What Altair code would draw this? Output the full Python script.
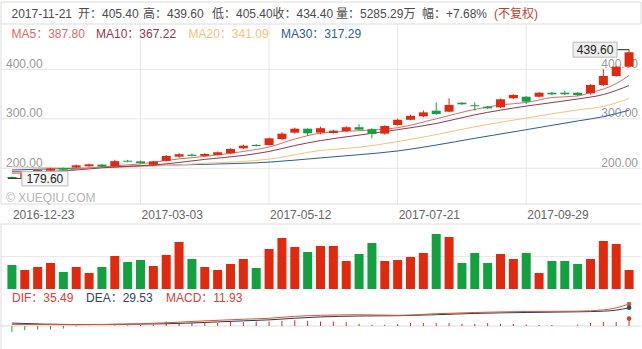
import altair as alt
import pandas as pd

FONT = "Arial, Liberation Sans, Noto Sans CJK SC, sans-serif"
RED = "#e0290e"
GREEN = "#13a03e"
GRID = "#e6e6e6"
BORDER = "#dcdcdc"
TXT = "#555555"
AXTXT = "#999999"
MA5C, MA10C, MA20C, MA30C = "#dd6a6a", "#8c3a4e", "#f5c27c", "#2d5b97"
DIFC, DEAC = "#e2522f", "#1f3c56"

# ---------------- data ----------------
open_p = [182.5, 181.0, 190.0, 195.0, 200.0, 201.5, 204.0, 207.5, 204.0, 215.5,
          214.0, 207.0, 215.0, 223.5, 227.5, 225.0, 227.0, 230.3, 240.4, 247.0,
          247.0, 259.0, 272.0, 280.0, 272.0, 271.3, 275.4, 283.0, 279.0, 270.0,
          287.5, 298.0, 305.0, 316.4, 314.4, 332.5, 327.3, 324.5, 323.2, 341.4,
          344.6, 344.6, 352.7, 352.7, 352.7, 351.5, 368.3, 386.5, 405.4]
close_p = [180.6, 190.0, 196.5, 199.5, 197.0, 206.0, 208.0, 203.5, 214.5, 213.0,
           210.5, 214.0, 225.0, 228.5, 225.0, 229.0, 232.4, 239.0, 245.7, 245.0,
           260.6, 270.0, 280.0, 270.7, 281.0, 276.0, 283.0, 278.0, 269.3, 285.5,
           298.0, 306.0, 313.0, 309.7, 328.0, 329.3, 325.3, 321.2, 339.4, 348.0,
           334.6, 352.7, 349.5, 349.5, 348.0, 368.3, 386.5, 405.3, 434.4]
high_p = [183.5, 191.5, 198.0, 201.0, 201.5, 207.5, 209.5, 209.0, 217.0, 217.0,
          215.5, 215.0, 226.5, 231.0, 230.0, 230.5, 234.0, 240.5, 248.0, 249.0,
          262.0, 273.0, 282.0, 281.0, 284.0, 278.0, 285.0, 289.0, 281.0, 287.0,
          300.5, 308.5, 317.0, 333.3, 341.4, 334.0, 333.3, 326.0, 341.0, 350.0,
          346.0, 354.0, 354.0, 356.8, 354.0, 370.0, 400.0, 407.0, 439.6]
low_p = [179.6, 180.2, 188.5, 194.0, 196.0, 200.5, 203.0, 202.0, 203.0, 212.0,
         209.0, 206.0, 214.0, 221.0, 224.0, 224.0, 226.0, 229.0, 239.0, 244.0,
         246.0, 257.0, 270.0, 265.9, 268.7, 270.0, 274.0, 277.0, 260.6, 268.0,
         286.0, 297.0, 303.0, 308.0, 313.0, 328.0, 316.4, 320.0, 322.0, 340.0,
         330.0, 343.0, 348.0, 348.0, 346.0, 349.0, 366.0, 385.0, 405.4]
volume = [6675, 5284, 6118, 7231, 4728, 6118, 4450, 6118, 9177, 7509,
          8065, 6396, 9455, 13071, 8343, 6118, 5284, 6953, 8343, 5840,
          11124, 14183, 11680, 10290, 11958, 11958, 7787, 9734, 12793, 7787,
          8065, 8899, 10012, 15296, 14461, 7231, 10012, 7231, 9734, 8343,
          10012, 4450, 7787, 7787, 6953, 8343, 13349, 12515, 5285.29]
macd_v = [-9.4, -6.8, -5.7, -5.7, -4.2, -1.0, -0.5, 0.3, 1.0, 1.0,
          1.6, 2.1, 7.3, 4.7, 4.7, 4.7, 4.7, 6.2, 6.2, 7.3,
          7.3, 8.3, 9.4, 8.3, 7.3, 7.3, 6.2, 3.6, 2.1, 2.1,
          3.1, 4.7, 4.7, 4.7, 4.7, 3.6, 3.6, 4.7, 3.6, 3.6,
          2.6, 1.6, 1.6, 0.2, 2.1, 4.7, 6.2, 6.2, 11.93]

ma5_i = [0, 2, 5, 7, 10, 13, 15, 18, 20, 22, 24, 27, 30, 33, 36, 38, 40, 42, 44, 45, 46, 47, 48]
ma5_v = [190, 191, 198, 203, 209, 219, 224, 234, 243, 259, 271, 276, 282, 300, 319, 328, 333, 343, 346, 353, 360, 371, 387.8]
ma10_i = [0, 2, 5, 7, 10, 12, 15, 18, 20, 22, 24, 27, 30, 33, 36, 40, 44, 46, 48]
ma10_v = [193, 193, 196.6, 201, 205, 209, 218, 226, 234, 246, 256, 267, 278, 290.5, 308, 325.7, 340, 349, 367.22]
ma20_i = [0, 2, 5, 7, 10, 15, 20, 24, 27, 30, 33, 36, 40, 44, 46, 48]
ma20_v = [203.3, 201.5, 201, 201.2, 203.3, 210, 218.5, 236, 242.4, 254, 268, 284, 301.5, 318, 325, 341.09]
ma30_i = [0, 2, 5, 7, 10, 15, 20, 24, 27, 30, 33, 36, 40, 44, 46, 48]
ma30_v = [196.6, 198, 200, 202, 205, 208, 212.5, 221, 227.5, 235, 247, 260.6, 278, 295.6, 304.3, 317.29]

md_i = [0, 5, 10, 12, 15, 18, 20, 22, 24, 27, 30, 33, 36, 40, 44, 46, 47, 48]
dif_v = [2.6, 2.1, 3.6, 5.2, 8.3, 10.9, 12.5, 15.6, 17.2, 18.2, 17.2, 19.8, 21.8, 23.4, 23.9, 26.0, 29.3, 35.49]
dea_v = [4.7, 2.3, 3.1, 3.6, 5.7, 8.3, 9.9, 12.5, 14.6, 16.1, 16.6, 18.2, 20.3, 21.8, 22.9, 23.9, 25.6, 29.53]

date_idx = [0, 10, 20, 30, 40]
date_lab = ["2016-12-23", "2017-03-03", "2017-05-12", "2017-07-21", "2017-09-29"]
price_ticks = [200, 300, 400]
price_lab = ["200.00", "300.00", "400.00"]

header_parts = ["2017-11-21", "开：405.40", "高：439.60", "低：405.40", "收：434.40",
                "量：5285.29万", "幅：+7.68%"]
ma_labels = ["MA5：387.80", "MA10：367.22", "MA20：341.09", "MA30：317.29"]
macd_labels = ["DIF：35.49", "DEA：29.53", "MACD：11.93"]

# ---------------- tables ----------------
n = len(close_p)
df = pd.DataFrame({"i": list(range(n)), "open": open_p, "close": close_p,
                   "high": high_p, "low": low_p, "vol": volume, "macd": macd_v})
df["dir"] = ["up" if c >= o else "down" for o, c in zip(open_p, close_p)]
df["msign"] = ["pos" if m >= 0 else "neg" for m in macd_v]
df["zero"] = 0.0

xs = alt.Scale(domain=[-0.5, n - 0.5], range=[0.5, 640.5], nice=False, zero=False)
ps = alt.Scale(domain=[200, 400], range=[168.3, 69.3], nice=False, zero=False)
vs = alt.Scale(domain=[0, 18070], range=[289, 224], nice=False, zero=False)
ms = alt.Scale(domain=[0, 35.49], range=[326, 304], nice=False, zero=False)

def X(f="i"):
    return alt.X(f"{f}:Q", scale=xs, axis=None)

def Yp(f):
    return alt.Y(f"{f}:Q", scale=ps, axis=None)

dir_color = alt.Color("dir:N", scale=alt.Scale(domain=["up", "down"], range=[RED, GREEN]), legend=None)
sign_color = alt.Color("msign:N", scale=alt.Scale(domain=["pos", "neg"], range=["#c8372a", "#2f8a52"]), legend=None)

dummy = pd.DataFrame({"a": [0]})

def hline(y, x1=1, x2=641, color=GRID):
    return alt.Chart(dummy).mark_rule(color=color, strokeWidth=1).encode(
        x=alt.value(x1), x2=alt.value(x2), y=alt.value(y))

def vline(x, y1, y2, color=BORDER):
    return alt.Chart(dummy).mark_rule(color=color, strokeWidth=1).encode(
        x=alt.value(x), y=alt.value(y1), y2=alt.value(y2))

def txt(s, x, y, color=TXT, size=12, align="left"):
    return alt.Chart(dummy).mark_text(text=s, font=FONT, fontSize=size, color=color,
                                      align=align, baseline="middle").encode(
        x=alt.value(x), y=alt.value(y))

layers = []

# frames
layers.append(alt.Chart(dummy).mark_rect(fill="white", stroke=BORDER, strokeWidth=1).encode(
    x=alt.value(1), x2=alt.value(641), y=alt.value(2), y2=alt.value(24)))
layers.append(vline(1, 24, 204))
layers.append(hline(204, color=BORDER))
layers.append(hline(224, color=BORDER))
layers.append(vline(1, 224, 349))

# price grid
grid_df = pd.DataFrame({"v": price_ticks, "lab": price_lab})
layers.append(alt.Chart(grid_df).mark_rule(color=GRID).encode(
    y=Yp("v"), x=alt.value(1), x2=alt.value(641)))
date_df = pd.DataFrame({"i": date_idx, "lab": date_lab})
layers.append(alt.Chart(date_df[date_df.i > 0]).mark_rule(color=GRID).encode(
    x=X(), y=alt.value(24), y2=alt.value(204)))
layers.append(alt.Chart(grid_df).mark_text(font=FONT, fontSize=12, color=AXTXT, align="left",
                                           baseline="alphabetic", dx=0, dy=-1.5).encode(
    y=Yp("v"), x=alt.value(6), text="lab:N"))
layers.append(alt.Chart(grid_df).mark_text(font=FONT, fontSize=12, color=AXTXT, align="right",
                                           baseline="alphabetic", dy=-1.5).encode(
    y=Yp("v"), x=alt.value(638), text="lab:N"))

# date labels
layers.append(alt.Chart(date_df).mark_text(font=FONT, fontSize=12, color="#666666", align="left",
                                           baseline="middle", dx=1).encode(
    x=X(), y=alt.value(215), text="lab:N"))

# watermark
layers.append(txt("© XUEQIU.COM", 6, 197.5, color="#b5b5b5", size=12))

# moving averages
for mi, mv, mc in [(ma30_i, ma30_v, MA30C), (ma20_i, ma20_v, MA20C),
                   (ma10_i, ma10_v, MA10C), (ma5_i, ma5_v, MA5C)]:
    layers.append(alt.Chart(pd.DataFrame({"i": mi, "v": mv})).mark_line(
        color=mc, strokeWidth=1, interpolate="monotone").encode(x=X(), y=Yp("v")))

# candles
layers.append(alt.Chart(df).mark_rule(strokeWidth=1).encode(
    x=X(), y=Yp("low"), y2="high:Q", color=dir_color))
layers.append(alt.Chart(df).mark_bar(size=9).encode(
    x=X(), y=Yp("open"), y2="close:Q", color=dir_color))

# high / low annotations
hi_df = pd.DataFrame({"i": [n - 1], "v": [max(high_p)], "lab": [f"{max(high_p):.2f}"]})
lo_df = pd.DataFrame({"i": [low_p.index(min(low_p))], "v": [min(low_p)], "lab": [f"{min(low_p):.2f}"]})
layers.append(alt.Chart(hi_df).mark_rule(color="#222222", strokeWidth=1, xOffset=-12, x2Offset=0).encode(
    x=X(), x2="i:Q", y=Yp("v")))
layers.append(alt.Chart(hi_df).mark_rect(fill="#eeeeee", stroke="#bbbbbb", strokeWidth=1,
                                         xOffset=-56, x2Offset=-12, yOffset=-7.5, y2Offset=7.5).encode(
    x=X(), x2="i:Q", y=Yp("v"), y2="v:Q"))
layers.append(alt.Chart(hi_df).mark_text(font=FONT, fontSize=12, color="#222222", align="center",
                                         baseline="middle", dx=-34).encode(x=X(), y=Yp("v"), text="lab:N"))
layers.append(alt.Chart(lo_df).mark_rule(color="#222222", strokeWidth=1, xOffset=-4, x2Offset=10).encode(
    x=X(), x2="i:Q", y=Yp("v")))
layers.append(alt.Chart(lo_df).mark_rect(fill="#f6f6f6", stroke="#bbbbbb", strokeWidth=1,
                                         xOffset=10, x2Offset=56, yOffset=-7, y2Offset=7.5).encode(
    x=X(), x2="i:Q", y=Yp("v"), y2="v:Q"))
layers.append(alt.Chart(lo_df).mark_text(font=FONT, fontSize=12, color="#222222", align="center",
                                         baseline="middle", dx=33, dy=0.5).encode(x=X(), y=Yp("v"), text="lab:N"))

# header
hx = [11.5, 78, 143, 212, 272.5, 336, 422]
for s, x in zip(header_parts, hx):
    layers.append(txt(s, x, 13.5, color="#4a4a4a"))
layers.append(txt("(不复权)", 494, 13.5, color="#b8432f"))

# MA legend
for s, x, c in zip(ma_labels, [11.5, 96, 188.5, 281], [MA5C, MA10C, MA20C, MA30C]):
    layers.append(txt(s, x, 34, color=c))

# volume
layers.append(alt.Chart(pd.DataFrame({"v": [9000]})).mark_rule(color=GRID).encode(
    y=alt.Y("v:Q", scale=vs, axis=None), x=alt.value(1), x2=alt.value(641)))
layers.append(alt.Chart(df).mark_bar(size=9).encode(
    x=X(), y=alt.Y("vol:Q", scale=vs, axis=None), y2="zero:Q", color=dir_color))

# MACD
for s, x, c in zip(macd_labels, [12, 86, 166], ["#d2403a", "#2f4462", "#d2403a"]):
    layers.append(txt(s, x, 298, color=c))
layers.append(alt.Chart(pd.DataFrame({"v": [0]})).mark_rule(color="#dddddd").encode(
    y=alt.Y("v:Q", scale=ms, axis=None), x=alt.value(1), x2=alt.value(641)))
layers.append(alt.Chart(df).mark_rule(strokeWidth=1).encode(
    x=X(), y=alt.Y("macd:Q", scale=ms, axis=None), y2="zero:Q", color=sign_color))
md_df = pd.DataFrame({"i": md_i, "dif": dif_v, "dea": dea_v})
layers.append(alt.Chart(md_df).mark_line(color=DEAC, strokeWidth=1, interpolate="monotone").encode(
    x=X(), y=alt.Y("dea:Q", scale=ms, axis=None)))
layers.append(alt.Chart(md_df).mark_line(color=DIFC, strokeWidth=1, interpolate="monotone").encode(
    x=X(), y=alt.Y("dif:Q", scale=ms, axis=None)))
last_md = md_df.tail(1)
layers.append(alt.Chart(last_md).mark_circle(size=22, color=DIFC, opacity=1).encode(
    x=X(), y=alt.Y("dif:Q", scale=ms, axis=None)))
layers.append(alt.Chart(last_md).mark_circle(size=22, color="#1d5a66", opacity=1).encode(
    x=X(), y=alt.Y("dea:Q", scale=ms, axis=None)))
layers.append(alt.Chart(df.tail(1)).mark_circle(size=22, color="#d2403a", opacity=1).encode(
    x=X(), y=alt.Y("macd:Q", scale=ms, axis=None)))

chart = alt.layer(*layers).resolve_scale(y="independent").properties(
    width=642, height=349, autosize=alt.AutoSizeParams(type="none"), padding=0,
    background="white"
).configure_view(stroke=None)

chart.save("out.html", embed_options={"renderer": "svg", "actions": False})
